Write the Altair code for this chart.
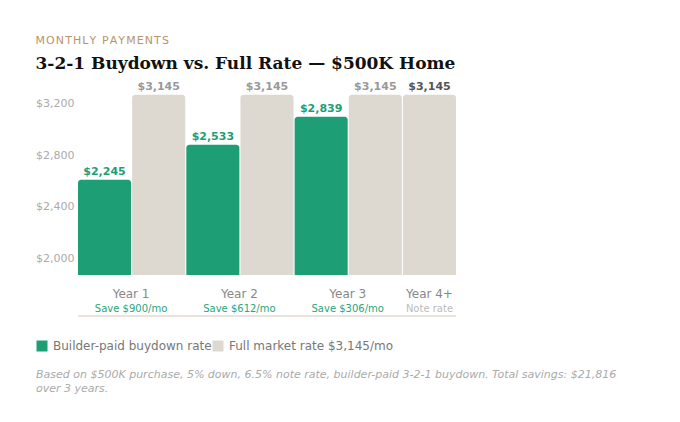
import altair as alt
import pandas as pd

# ---- data ----
slots = ["Y1 buydown", "Y1 full", "Y2 buydown", "Y2 full", "Y3 buydown", "Y3 full", "Y4 full"]
series = ["Builder-paid buydown rate", "Full market rate $3,145/mo",
          "Builder-paid buydown rate", "Full market rate $3,145/mo",
          "Builder-paid buydown rate", "Full market rate $3,145/mo",
          "Full market rate $3,145/mo"]
payments = [2245, 3145, 2533, 3145, 2839, 3145, 3145]
# bar tops as drawn, read against the y axis of the picture
bar_tops = [2610, 3270, 2882, 3270, 3099, 3270, 3270]

years = ["Year 1", "Year 2", "Year 3", "Year 4+"]
year_slots = ["Y1 buydown", "Y2 buydown", "Y3 buydown", "Y4 full"]
savings = ["Save $900/mo", "Save $612/mo", "Save $306/mo", "Note rate"]

y_ticks = [2000, 2400, 2800, 3200]
series_domain = ["Builder-paid buydown rate", "Full market rate $3,145/mo"]

GREEN = "#1d9e75"
BEIGE = "#ddd8d0"

df = pd.DataFrame({"slot": slots, "series": series, "payment": payments, "top": bar_tops})
df["label"] = df["payment"].map(lambda v: f"${v:,}")
ydf = pd.DataFrame({"slot": year_slots, "year": years, "save": savings})

W, H = 378, 190
ydom = [1870, 3345]
FONT = "DejaVu Sans"

xs = alt.Scale(domain=slots, paddingInner=0.02, paddingOuter=0)
ysc = alt.Scale(domain=ydom, zero=False, nice=False)

base = alt.Chart(df)

bars = base.mark_bar(cornerRadiusTopLeft=3, cornerRadiusTopRight=3).encode(
    x=alt.X("slot:N", scale=xs, axis=None),
    y=alt.Y("top:Q", scale=ysc,
            axis=alt.Axis(values=y_ticks, format="$,.0f", domain=False, ticks=False, grid=False,
                          labelColor="#aaaaaa", labelFontSize=11, labelFont=FONT, labelPadding=4),
            title=None),
    y2=alt.datum(ydom[0]),
    color=alt.Color("series:N",
                    scale=alt.Scale(domain=series_domain, range=[GREEN, BEIGE]),
                    legend=alt.Legend(title=None, orient="none", direction="horizontal",
                                      legendX=-42, legendY=255, symbolType="square",
                                      symbolSize=121, symbolStrokeWidth=0, labelOffset=5,
                                      columnPadding=0, labelFontSize=12, labelColor="#777777",
                                      labelFont=FONT, labelLimit=400)),
)

def lbl(filter_expr, color):
    return base.transform_filter(filter_expr).mark_text(
        baseline="bottom", dy=-3, fontSize=11, fontWeight="bold", font=FONT, color=color
    ).encode(x=alt.X("slot:N", scale=xs), y=alt.Y("top:Q", scale=ysc), text="label:N")

lab_green = lbl("datum.series == 'Builder-paid buydown rate'", GREEN)
lab_gray = lbl("datum.series != 'Builder-paid buydown rate' && datum.slot != 'Y4 full'", "#999999")
lab_last = lbl("datum.slot == 'Y4 full'", "#555555")

yb = alt.Chart(ydf)
yr13 = yb.transform_filter("datum.slot != 'Y4 full'")
yr4 = yb.transform_filter("datum.slot == 'Y4 full'")

year_txt = yr13.mark_text(fontSize=12, color="#888888", font=FONT, baseline="middle").encode(
    x=alt.X("slot:N", scale=xs, bandPosition=1), y=alt.value(209), text="year:N")
save_txt = yr13.mark_text(fontSize=10, color="#2aa57c", font=FONT, baseline="middle").encode(
    x=alt.X("slot:N", scale=xs, bandPosition=1), y=alt.value(224), text="save:N")
year4_txt = yr4.mark_text(fontSize=12, color="#888888", font=FONT, baseline="middle").encode(
    x=alt.X("slot:N", scale=xs), y=alt.value(209), text="year:N")
save4_txt = yr4.mark_text(fontSize=10, color="#bbbbbb", font=FONT, baseline="middle").encode(
    x=alt.X("slot:N", scale=xs), y=alt.value(224), text="save:N")

one = alt.Data(values=[{}])
baseline_rule = alt.Chart(one).mark_rule(color="#e9e5de", strokeWidth=2).encode(
    x=alt.value(0), x2=alt.value(W), y=alt.value(231))

footnote = alt.Chart(one).mark_text(
    align="left", baseline="middle", fontSize=11, fontStyle="italic", color="#aaaaaa",
    font=FONT, lineHeight=14
).encode(
    x=alt.value(-42), y=alt.value(290),
    text=alt.value(["Based on $500K purchase, 5% down, 6.5% note rate, builder-paid 3-2-1 buydown. Total savings: $21,816",
                    "over 3 years."]))

hs = "\u200a"
sub = hs.join("MONTHLY PAYMENTS")

chart = alt.layer(
    bars, lab_green, lab_gray, lab_last, year_txt, save_txt, year4_txt, save4_txt,
    baseline_rule, footnote
).properties(
    width=W, height=H,
    title=alt.TitleParams(
        text=sub, subtitle="3-2-1 Buydown vs. Full Rate \u2014 $500K Home",
        anchor="start", fontSize=11, font=FONT, fontWeight="normal", color="#b8946c",
        subtitleFont="DejaVu Serif", subtitleFontSize=17, subtitleFontWeight="bold",
        subtitleColor="#111111", subtitlePadding=10, offset=9),
    padding={"left": 35, "top": 34, "right": 10, "bottom": 10},
).configure(background="white", view=alt.ViewConfig(stroke="transparent", strokeWidth=0))

chart.save("out.html", embed_options={"renderer": "svg", "actions": False})
